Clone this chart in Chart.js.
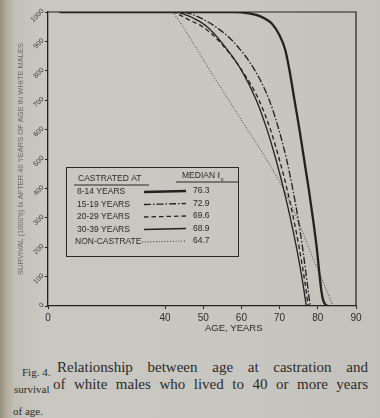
<!DOCTYPE html>
<html><head><meta charset="utf-8">
<script src="https://cdn.jsdelivr.net/npm/chart.js@4.4.0/dist/chart.umd.min.js"></script>
<style>
html,body{margin:0;padding:0;width:380px;height:418px;overflow:hidden;}
body{position:relative;background:linear-gradient(to right,#958e7c 0px,#b3ae9f 7px,#c2bfb6 15px,#c9c7c1 40px,#c8c6c0 250px,#c3c1bb 380px);font-family:"Liberation Serif","Times New Roman",serif;color:#2c2b29;}
#wrap{position:absolute;left:0;top:0;width:380px;height:345px;}
.cap{position:absolute;font-size:15px;line-height:17px;white-space:nowrap;}
.jus{white-space:normal;text-align:justify;text-align-last:justify;}
</style></head><body>
<div id="wrap"><canvas id="c" width="380" height="345"></canvas></div>
<div class="cap" style="left:22px;top:364px;font-size:11px;">Fig. 4.</div>
<div class="cap jus" style="left:57px;top:359px;width:311px;">Relationship between age at castration and</div>
<div class="cap" style="left:14px;top:381px;font-size:11px;">survival</div>
<div class="cap jus" style="left:53px;top:376px;width:315px;">of white males who lived to 40 or more years</div>
<div class="cap" style="left:13px;top:403px;font-size:11px;">of age.</div>
<script>
// ---- data ----
const xTicks = [0, 40, 50, 60, 70, 80, 90];
const yTicksStep = 100;

const seriesNames = ['8-14 YEARS', '15-19 YEARS', '20-29 YEARS', '30-39 YEARS', 'NON-CASTRATE'];
const medians = ['76.3', '72.9', '69.6', '68.9', '64.7'];

const age_8_14 = [4, 40, 58, 62, 65, 68, 70, 71.5, 72.6, 73.9, 75.2, 76.4, 77.6, 78.7, 79.7, 80.5, 80.95, 81.4, 82.0, 82.6];
const val_8_14 = [1000, 1000, 1000, 995, 985, 960, 920, 870, 800, 700, 600, 500, 400, 300, 200, 100, 50, 20, 5, 0];

const age_15_19 = [4, 40, 44.5, 47.5, 50, 53.2, 57.8, 63.6, 67.3, 69.8, 71.8, 73.4, 74.8, 76.0, 77.0, 78.0];
const val_15_19 = [1000, 1000, 1000, 990, 975, 950, 900, 800, 700, 600, 500, 400, 300, 200, 100, 0];

const age_20_29 = [4, 40, 42, 43.8, 46, 49.8, 54.2, 60.2, 64.6, 67.6, 69.9, 71.9, 73.6, 75.1, 76.4, 77.5];
const val_20_29 = [1000, 1000, 1000, 990, 975, 950, 900, 800, 700, 600, 500, 400, 300, 200, 100, 0];

const age_30_39 = [4, 40, 43, 45.5, 48, 51, 54.6, 60.1, 63.9, 66.7, 69.0, 71.0, 72.8, 74.4, 75.8, 77.0];
const val_30_39 = [1000, 1000, 1000, 990, 975, 950, 900, 800, 700, 600, 500, 400, 300, 200, 100, 0];

const age_non = [4, 40, 41.5, 42.5, 44.7, 47.1, 51.8, 56.7, 61.6, 66.5, 70.9, 74.5, 77.6, 80.8, 84];
const val_non = [1000, 1000, 1000, 990, 950, 900, 800, 700, 600, 500, 400, 300, 200, 100, 0];

// ---- broken x scale (0..40 compressed) ----
const BREAK_AT = 40, BREAK_FRAC = 0.38;
class BrokenLinearScale extends Chart.LinearScale {
  getPixelForValue(value) {
    let d;
    if (value <= BREAK_AT) d = (value - this.min) / (BREAK_AT - this.min) * BREAK_FRAC;
    else d = BREAK_FRAC + (value - BREAK_AT) / (this.max - BREAK_AT) * (1 - BREAK_FRAC);
    return this.getPixelForDecimal(d);
  }
  getValueForPixel(pixel) {
    const d = this.getDecimalForPixel(pixel);
    return d <= BREAK_FRAC ? this.min + d / BREAK_FRAC * (BREAK_AT - this.min)
                           : BREAK_AT + (d - BREAK_FRAC) / (1 - BREAK_FRAC) * (this.max - BREAK_AT);
  }
}
BrokenLinearScale.id = 'brokenLinear';
BrokenLinearScale.defaults = {};
Chart.register(BrokenLinearScale);

const pts = (a, v) => a.map((x, i) => ({x: x, y: v[i]}));
const INK = '#222120';
const SANS = '"Liberation Sans", Arial, sans-serif';

const styles = [
  {w: 2.3, dash: []},
  {w: 1.3, dash: [7, 2, 1.5, 2]},
  {w: 1.3, dash: [4.5, 3]},
  {w: 1.3, dash: []},
  {w: 1.0, dash: [1, 1.8]}
];
const allData = [pts(age_8_14, val_8_14), pts(age_15_19, val_15_19), pts(age_20_29, val_20_29), pts(age_30_39, val_30_39), pts(age_non, val_non)];

const datasets = allData.map((d, i) => ({
  label: seriesNames[i], data: d, borderColor: i === 4 ? '#3a3936' : INK,
  borderWidth: styles[i].w, borderDash: styles[i].dash, pointRadius: 0,
  cubicInterpolationMode: 'monotone', fill: false
}));

const decor = {
  id: 'decor',
  beforeDatasetsDraw(chart) {
    const {ctx, chartArea: a} = chart;
    ctx.save();
    ctx.strokeStyle = INK; ctx.lineWidth = 1.2;
    ctx.beginPath(); ctx.moveTo(a.left, a.top); ctx.lineTo(a.right, a.top); ctx.lineTo(a.right, a.bottom); ctx.stroke();
    ctx.restore();
  },
  afterDraw(chart) {
    const ctx = chart.ctx;
    ctx.save();
    ctx.fillStyle = '#2a2927';
    ctx.font = '9.5px ' + SANS;
    ctx.textAlign = 'center'; ctx.textBaseline = 'middle';
    ctx.fillText('AGE, YEARS', chart.scales.x.getPixelForValue(58), 328);
    const bx = 66, by = 167, bw = 172, bh = 89;
    ctx.strokeStyle = '#2a2927'; ctx.lineWidth = 1;
    ctx.strokeRect(bx + 0.5, by + 0.5, bw, bh);
    ctx.font = '8.5px ' + SANS;
    ctx.textAlign = 'left';
    ctx.fillText('CASTRATED AT', 78, 179);
    ctx.beginPath(); ctx.moveTo(74, 185); ctx.lineTo(149, 185); ctx.stroke();
    ctx.fillText('MEDIAN \u2113', 182, 176);
    const mw = ctx.measureText('MEDIAN \u2113').width;
    ctx.font = '6px ' + SANS;
    ctx.fillText('x', 182 + mw + 0.5, 179);
    ctx.beginPath(); ctx.moveTo(176, 182); ctx.lineTo(238, 182); ctx.stroke();
    ctx.font = '8.5px ' + SANS;
    const rows = [192, 204.5, 217, 229.5, 242];
    rows.forEach((y, i) => {
      ctx.fillStyle = '#2a2927';
      ctx.fillText(seriesNames[i], i === 4 ? 75 : 77, y);
      ctx.fillText(medians[i], 193, y - 1);
      ctx.save();
      ctx.strokeStyle = datasets[i].borderColor;
      ctx.lineWidth = styles[i].w; ctx.setLineDash(styles[i].dash);
      ctx.beginPath(); ctx.moveTo(i === 4 ? 142 : 144, y); ctx.lineTo(186, y - 1); ctx.stroke();
      ctx.restore();
    });
    ctx.restore();
  }
};

new Chart(document.getElementById('c'), {
  type: 'line',
  data: {datasets: datasets},
  plugins: [decor],
  options: {
    responsive: false, animation: false, devicePixelRatio: 1,
    layout: {padding: {top: 12, right: 24, left: 0, bottom: 0}},
    plugins: {legend: {display: false}, tooltip: {enabled: false}},
    scales: {
      x: {
        type: 'brokenLinear', min: 0, max: 90,
        afterBuildTicks(s) { s.ticks = xTicks.map(v => ({value: v})); },
        afterFit(s) { s.height = 39; },
        ticks: {autoSkip: false, maxRotation: 0, minRotation: 0, padding: 3, color: '#2e2d2b',
                font: {size: 10, family: SANS}, callback: v => String(v)},
        grid: {display: true, drawOnChartArea: false, tickLength: 3, color: INK, tickColor: INK},
        border: {display: true, color: INK, width: 1.3}
      },
      y: {
        type: 'linear', min: 0, max: 1000,
        afterFit(s) { s.width = 48; },
        ticks: {stepSize: yTicksStep, minRotation: 45, maxRotation: 45, padding: 2, labelOffset: -2,
                color: '#3c3b38', font: {size: 7, family: SANS}, callback: v => String(v)},
        grid: {display: true, drawOnChartArea: false, tickLength: 3, color: INK, tickColor: INK},
        border: {display: true, color: INK, width: 1.3},
        title: {display: true, text: "SURVIVAL (1000's) \u2113x AFTER 40 YEARS OF AGE IN WHITE MALES",
                color: '#6c6a64', font: {size: 7.5, family: SANS}, padding: {top: 16, bottom: 0}}
      }
    }
  }
});
</script>
</body></html>
